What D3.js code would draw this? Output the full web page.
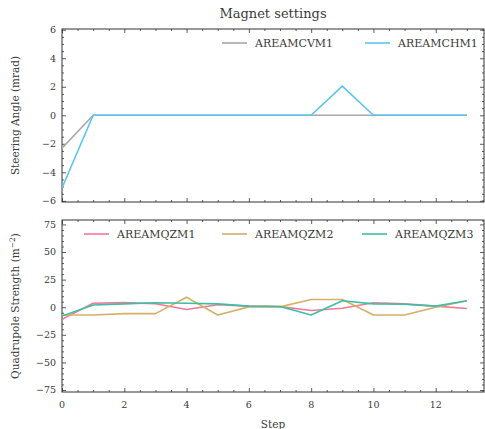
<!DOCTYPE html>
<html>
<head>
<meta charset="utf-8">
<script src="https://cdn.jsdelivr.net/npm/d3@7"></script>
<style>
  html, body { margin: 0; padding: 0; background: #fff; }
  svg text { font-family: "DejaVu Serif", "Liberation Serif", serif; fill: #3a3a3a; }
</style>
</head>
<body>
<svg id="chart" width="485" height="429"></svg>
<script>
// Steps of the optimisation run
const steps = d3.range(0, 14);

// Steering magnets (mrad)
const steeringNames = ["AREAMCVM1", "AREAMCHM1"];
const steeringColors = ["#a8a8a8", "#5bc4ee"];
const areamcvm1 = [-2.3, 0, 0, 0, 0, 0, 0, 0, 0, 0, 0, 0, 0, 0];
const areamchm1 = [-5.1, 0, 0, 0, 0, 0, 0, 0, 0, 2.05, 0, 0, 0, 0];

// Quadrupole magnets (1/m^2)
const quadNames = ["AREAMQZM1", "AREAMQZM2", "AREAMQZM3"];
const quadColors = ["#f07a95", "#d4b068", "#3ebfa5"];
const areamqzm1 = [-11, 3.6, 4.2, 3.2, -2, 2.2, 1, 0.5, -3, -1, 4, 3, 1, -1.2];
const areamqzm2 = [-7, -7, -5.8, -5.8, 9, -7, 0.3, 0.3, 7, 7, -7, -7, 0, 5.8];
const areamqzm3 = [-8, 2, 3, 4, 3.6, 3, 1, 0.6, -7, 5.8, 3, 2.7, 1, 5.8];

// Tick values
const xTicks = [0, 2, 4, 6, 8, 10, 12];
const steeringTicks = [-6, -4, -2, 0, 2, 4, 6];
const quadTicks = [-75, -50, -25, 0, 25, 50, 75];

const svg = d3.select("#chart");
const left = 62, right = 484;

const x = d3.scaleLinear().domain([0, 13.55]).range([left, right]);

const fmt = d => d < 0 ? "\u2212" + Math.abs(d) : String(d);

function panel(top, bottom, yDomain, majors, minorStep, seriesList, names, colors, legendX, showXLabels) {
  const y = d3.scaleLinear().domain(yDomain).range([bottom, top]);
  const g = svg.append("g");

  // frame
  g.append("rect").attr("x", left).attr("y", top)
    .attr("width", right - left).attr("height", bottom - top)
    .attr("fill", "none").attr("stroke", "#333").attr("stroke-width", 1);

  const xMinor = d3.range(0, 13.55, 0.5).filter(v => !xTicks.includes(v));
  const yMinor = d3.range(Math.ceil(yDomain[0] / minorStep) * minorStep, yDomain[1], minorStep)
    .filter(v => !majors.some(m => Math.abs(m - v) < 1e-9));

  // inward ticks on all four sides, built from d3 axes
  const mk = (axisFn, scale, vals, len, tr) => {
    const a = g.append("g").attr("transform", tr)
      .call(axisFn(scale).tickValues(vals).tickSize(len).tickSizeOuter(0).tickFormat(""));
    a.select(".domain").remove();
    a.selectAll("line").attr("stroke", "#333").attr("stroke-width", 0.8);
    return a;
  };
  mk(d3.axisTop, x, xTicks, 4, `translate(0,${bottom})`);
  mk(d3.axisTop, x, xMinor, 2, `translate(0,${bottom})`);
  mk(d3.axisBottom, x, xTicks, 4, `translate(0,${top})`);
  mk(d3.axisBottom, x, xMinor, 2, `translate(0,${top})`);
  mk(d3.axisRight, y, majors, 4, `translate(${left},0)`);
  mk(d3.axisRight, y, yMinor, 2, `translate(${left},0)`);
  mk(d3.axisLeft, y, majors, 4, `translate(${right},0)`);
  mk(d3.axisLeft, y, yMinor, 2, `translate(${right},0)`);

  // tick labels
  g.selectAll(".ylab").data(majors).join("text")
    .attr("x", left - 6).attr("y", d => y(d)).attr("dy", "0.35em")
    .attr("text-anchor", "end").attr("font-size", 9.5).text(fmt);
  if (showXLabels) {
    g.selectAll(".xlab").data(xTicks).join("text")
      .attr("x", d => x(d)).attr("y", bottom + 16)
      .attr("text-anchor", "middle").attr("font-size", 9.5).text(fmt);
  }

  // series
  const line = d3.line().x((d, i) => x(steps[i])).y(d => y(d));
  const clipId = "clip" + top;
  svg.append("clipPath").attr("id", clipId).append("rect")
    .attr("x", left).attr("y", top).attr("width", right - left).attr("height", bottom - top);
  seriesList.forEach((s, i) => {
    g.append("path").datum(s).attr("d", line)
      .attr("clip-path", `url(#${clipId})`)
      .attr("fill", "none").attr("stroke", colors[i]).attr("stroke-width", 1.6)
      .attr("stroke-linejoin", "round");
  });

  // legend
  const ly = top + 14;
  names.forEach((n, i) => {
    const lx = legendX[i];
    g.append("line").attr("x1", lx).attr("x2", lx + 25).attr("y1", ly).attr("y2", ly)
      .attr("stroke", colors[i]).attr("stroke-width", 1.6);
    g.append("text").attr("x", lx + 33).attr("y", ly).attr("dy", "0.35em")
      .attr("font-size", 11).text(n);
  });

  // y axis title
  const cy = (top + bottom) / 2;
  const t = g.append("text").attr("transform", `translate(19,${cy}) rotate(-90)`)
    .attr("text-anchor", "middle").attr("font-size", 10.5);
  return { g, y, t };
}

const p1 = panel(29, 202, [-6.08, 6.05], steeringTicks, 0.5,
  [areamcvm1, areamchm1], steeringNames, steeringColors, [222, 365], false);
p1.t.text("Steering Angle (mrad)");

const p2 = panel(220, 392, [-76.8, 79], quadTicks, 5,
  [areamqzm1, areamqzm2, areamqzm3], quadNames, quadColors, [84, 222, 362], true);
p2.t.text("Quadrupole Strength (m");
p2.t.append("tspan").attr("dy", -4).attr("font-size", 7.5).text("\u22122");
p2.t.append("tspan").attr("dy", 4).text(")");

// title and x axis title
svg.append("text").attr("x", 273).attr("y", 18).attr("text-anchor", "middle")
  .attr("font-size", 13).text("Magnet settings");
svg.append("text").attr("x", 273).attr("y", 428).attr("text-anchor", "middle")
  .attr("font-size", 10.5).text("Step");
</script>
</body>
</html>
